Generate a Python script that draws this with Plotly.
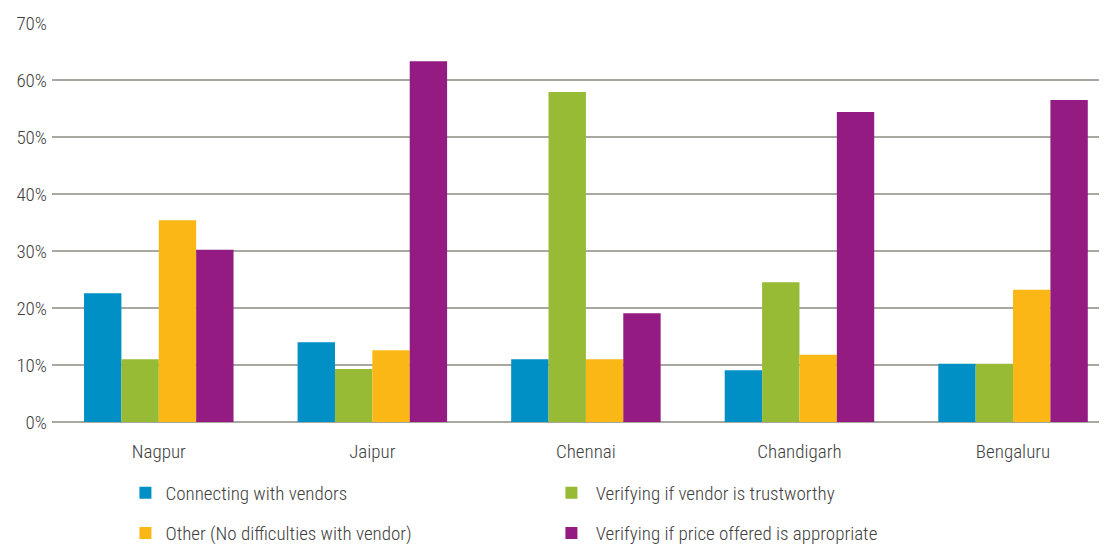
import plotly.graph_objects as go

cities = ["Nagpur", "Jaipur", "Chennai", "Chandigarh", "Bengaluru"]
connecting = [22.6, 14.0, 11.0, 9.1, 10.2]
trustworthy = [11.0, 9.3, 57.9, 24.5, 10.2]
other = [35.4, 12.6, 11.0, 11.8, 23.2]
price = [30.2, 63.3, 19.1, 54.4, 56.5]

series = [
    ("Connecting with vendors", connecting, "#0090c5", "legend"),
    (" Verifying if vendor is trustworthy", trustworthy, "#97bb35", "legend"),
    ("Other (No difficulties with vendor)", other, "#fbb716", "legend2"),
    (" Verifying if price offered is appropriate", price, "#931b82", "legend2"),
]

FONT = "Roboto Condensed, Liberation Sans Narrow, Roboto, sans-serif"
TXT = "#404040"
W = 300

fig = go.Figure()
for name, vals, color, lg in series:
    fig.add_trace(go.Bar(name=name, x=cities, y=vals, marker_color=color,
                         marker_line_width=0, legend=lg))

legend_common = dict(orientation="h", xanchor="left", yanchor="top",
                     font=dict(size=19, color=TXT, family=FONT, weight=W),
                     entrywidth=381, entrywidthmode="pixels",
                     bgcolor="rgba(0,0,0,0)")

fig.update_layout(
    width=1099, height=537,
    margin=dict(l=44, r=0, t=15, b=123, autoexpand=False),
    barmode="group", bargap=0.3, bargroupgap=0,
    plot_bgcolor="white", paper_bgcolor="white",
    font=dict(family=FONT, color=TXT, size=19, weight=W),
    legend=dict(x=0.0696, y=-0.13, **legend_common),
    legend2=dict(x=0.0696, y=-0.231, **legend_common),
    xaxis=dict(range=[-0.5, 4.44], showgrid=False, showline=False,
               ticks="", ticklabelstandoff=16,
               tickfont=dict(size=19, color=TXT, family=FONT, weight=W)),
    yaxis=dict(range=[0, 70], dtick=10, ticksuffix="%", showgrid=True,
               gridcolor="#a8a8a0", gridwidth=1.5, zeroline=True,
               zerolinecolor="#a8a8a0", zerolinewidth=1.5,
               ticks="", ticklabelstandoff=4,
               tickfont=dict(size=19, color=TXT, family=FONT, weight=W)),
)

fig.write_html("out.html")
